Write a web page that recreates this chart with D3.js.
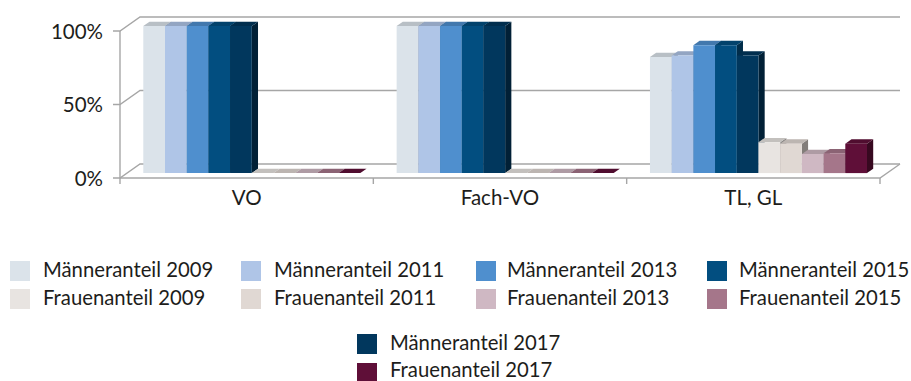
<!DOCTYPE html>
<head>
<meta charset="utf-8">
<script src="https://cdn.jsdelivr.net/npm/d3@7"></script>
<style>
body{
  margin: 0px;
  background: white;
  overflow: hidden;
}
text{
  font-family: Lato, Arial, sans-serif;
  fill: #1d1d1b;
}
</style>
</head>
<div id="chart"></div>
<script>

// DATA ----------------------------------------------------
var categories = ["VO", "Fach-VO", "TL, GL"]
var yTicks = [0, 50, 100]

var maenner2009 = [100, 100, 79]
var maenner2011 = [100, 100, 80]
var maenner2013 = [100, 100, 87]
var maenner2015 = [100, 100, 87]
var maenner2017 = [100, 100, 80]
var frauen2009 = [0, 0, 21]
var frauen2011 = [0, 0, 20]
var frauen2013 = [0, 0, 13]
var frauen2015 = [0, 0, 13.5]
var frauen2017 = [0, 0, 20]

var seriesNames = ["Männeranteil 2009", "Männeranteil 2011", "Männeranteil 2013", "Männeranteil 2015", "Männeranteil 2017",
  "Frauenanteil 2009", "Frauenanteil 2011", "Frauenanteil 2013", "Frauenanteil 2015", "Frauenanteil 2017"]
var seriesValues = [maenner2009, maenner2011, maenner2013, maenner2015, maenner2017,
  frauen2009, frauen2011, frauen2013, frauen2015, frauen2017]
var seriesColors = ["#dbe3ea", "#afc5e7", "#4f8fce", "#024e80", "#01375d",
  "#e8e4e1", "#e0d8d3", "#cfb8c3", "#a5768a", "#5f0f38"]
// END -----------------------------------------------------

var width = 911, height = 381

// front plane of the 3d box, depth goes up and to the right
var x = d3.scaleBand().domain(categories).range([120, 880])
var y = d3.scaleLinear().domain([0, 100]).range([178, 31])
var depthX = 20, depthY = -14

var barOuterLeft = 16.3, barOuterRight = 20
var barX = d3.scaleBand()
  .domain(d3.range(seriesNames.length))
  .range([barOuterLeft, x.bandwidth() - barOuterRight])

// z is 0 at the front of the box, 1 at the back wall
function project(px, py, z){
  return [px + depthX * z, py + depthY * z]
}
function poly(points){
  return points.map(function(p){ return p.join(",") }).join(" ")
}
function shade(color, k){
  var c = d3.rgb(color)
  return d3.rgb(c.r * k, c.g * k, c.b * k).formatHex()
}

var svg = d3.select("#chart").append("svg")
  .attr("width", width)
  .attr("height", height)
  .style("display", "block")

// walls and gridlines
var gridColor = "#a6a6a6"
var grid = svg.append("g")
  .attr("fill", "none")
  .attr("stroke", gridColor)
  .attr("stroke-width", 1.4)

grid.selectAll("polyline.wall")
  .data(yTicks)
  .join("polyline")
  .attr("class", "wall")
  .attr("points", function(d){
    return poly([[x.range()[0] - 7, y(d)], [x.range()[0], y(d)],
      project(x.range()[0], y(d), 1), project(x.range()[1], y(d), 1)])
  })

grid.append("line")
  .attr("x1", x.range()[0]).attr("x2", x.range()[0])
  .attr("y1", y(100)).attr("y2", y(0))

grid.append("polyline")
  .attr("points", poly([[x.range()[0], y(0)], [x.range()[1], y(0)], project(x.range()[1], y(0), 1)]))

var xTickPos = categories.map(function(c){ return x(c) }).concat(x.range()[1])
grid.selectAll("line.xtick")
  .data(xTickPos)
  .join("line")
  .attr("class", "xtick")
  .attr("x1", function(d){ return d }).attr("x2", function(d){ return d })
  .attr("y1", y(0)).attr("y2", y(0) + 6)

// bars, left to right so the later ones cover the earlier sides
var zFront = 0.35, zBack = 0.66
var bars = []
categories.forEach(function(c, ci){
  seriesNames.forEach(function(s, si){
    bars.push({x0: x(c) + barX(si), x1: x(c) + barX(si) + barX.bandwidth(), value: seriesValues[si][ci], color: seriesColors[si]})
  })
})

var bar = svg.append("g").selectAll("g")
  .data(bars)
  .join("g")

bar.append("polygon")
  .attr("fill", function(d){ return shade(d.color, 0.58) })
  .attr("points", function(d){
    return poly([project(d.x1, y(0), zFront), project(d.x1, y(0), zBack),
      project(d.x1, y(d.value), zBack), project(d.x1, y(d.value), zFront)])
  })
bar.append("polygon")
  .attr("fill", function(d){ return shade(d.color, 0.84) })
  .attr("points", function(d){
    return poly([project(d.x0, y(d.value), zFront), project(d.x1, y(d.value), zFront),
      project(d.x1, y(d.value), zBack), project(d.x0, y(d.value), zBack)])
  })
bar.append("polygon")
  .attr("fill", function(d){ return d.color })
  .attr("points", function(d){
    return poly([project(d.x0, y(0), zFront), project(d.x1, y(0), zFront),
      project(d.x1, y(d.value), zFront), project(d.x0, y(d.value), zFront)])
  })

// axis labels
svg.append("g").selectAll("text")
  .data(yTicks)
  .join("text")
  .attr("x", 103)
  .attr("y", function(d){ return y(d) + 7.5 })
  .attr("text-anchor", "end")
  .attr("font-size", 20.5)
  .text(function(d){ return d + "%" })

svg.append("g").selectAll("text")
  .data(categories)
  .join("text")
  .attr("x", function(d){ return x(d) + x.bandwidth() / 2 })
  .attr("y", 204.5)
  .attr("text-anchor", "middle")
  .attr("font-size", 20.5)
  .text(function(d){ return d })

// legend
var legendX = [10, 241, 476, 707, 357]
var legendTextX = [43, 274, 507, 739, 390]
var legendY = [261, 289, 334, 363]
var legendTextY = [277.3, 305.3, 350.3, 377]
var legendItems = seriesNames.map(function(name, i){
  var col = i % 5, row = i < 5 ? 0 : 1
  if (col == 4) row += 2
  return {name: name, color: seriesColors[i], x: legendX[col], y: legendY[row], tx: legendTextX[col], ty: legendTextY[row]}
})

var legend = svg.append("g").selectAll("g")
  .data(legendItems)
  .join("g")

legend.append("rect")
  .attr("x", function(d){ return d.x })
  .attr("y", function(d){ return d.y })
  .attr("width", 20)
  .attr("height", 20)
  .attr("fill", function(d){ return d.color })

legend.append("text")
  .attr("x", function(d){ return d.tx })
  .attr("y", function(d){ return d.ty })
  .attr("font-size", 20.3)
  .text(function(d){ return d.name })

</script>
